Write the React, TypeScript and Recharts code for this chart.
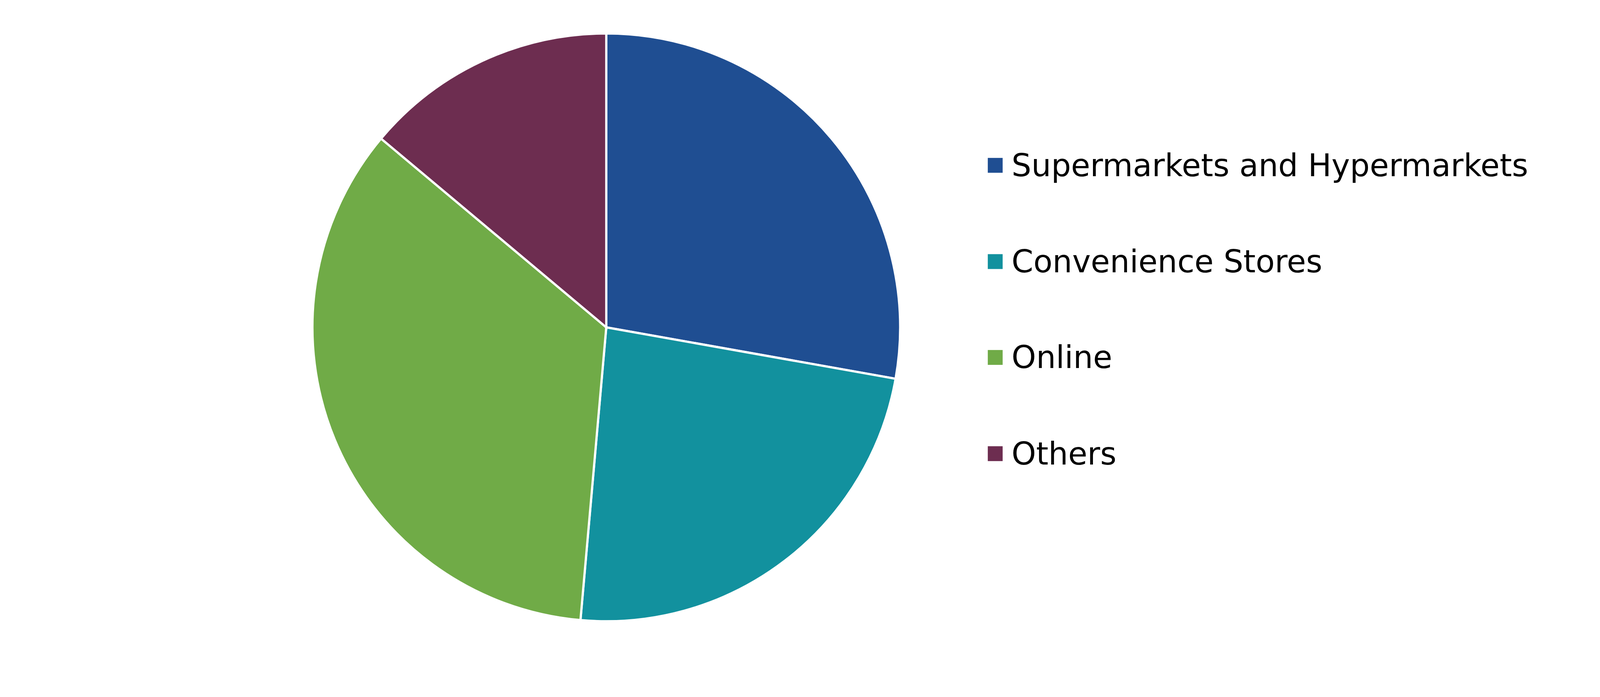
import { PieChart, Pie, Cell, Legend } from 'recharts';

const channels = ['Supermarkets and Hypermarkets', 'Convenience Stores', 'Online', 'Others'];
const shares = [27.8, 23.6, 34.7, 13.9];
const colors = ['#1F4E92', '#12919E', '#70AB47', '#6D2D50'];

const data = channels.map((name, i) => ({ name, value: shares[i] }));

const W = 4307;
const H = 1784;

// keep the legend in data order (recharts sorts by name otherwise)
function LegendList({ payload }: any) {
  const items = [...(payload || [])].sort(
    (a: any, b: any) => channels.indexOf(a.value) - channels.indexOf(b.value)
  );
  return (
    <div>
      {items.map((entry: any) => (
        <div
          key={entry.value}
          style={{ height: 258.5, display: 'flex', alignItems: 'center' }}
        >
          <span
            style={{ width: 40, height: 40, background: entry.color, marginRight: 24, flex: 'none' }}
          />
          <span style={{ fontFamily: 'DejaVu Sans, Verdana, sans-serif', fontSize: 84, color: '#000', whiteSpace: 'nowrap' }}>
            {entry.value}
          </span>
        </div>
      ))}
    </div>
  );
}

export default function App() {
  // fit the 4307x1784 drawing into whatever css viewport the page really has
  const k = Math.min(window.innerWidth / W, window.innerHeight / H, 1);
  return (
    <div
      style={{
        position: 'absolute',
        left: 0,
        top: 0,
        width: W,
        height: H,
        background: '#fff',
        transform: `scale(${k})`,
        transformOrigin: '0 0',
      }}
    >
      <PieChart width={W} height={H} margin={{ top: 0, right: 0, bottom: 0, left: 0 }}>
        <Pie
          data={data}
          dataKey="value"
          nameKey="name"
          cx={1632}
          cy={881}
          outerRadius={791}
          startAngle={90}
          endAngle={-270}
          stroke="#fff"
          strokeWidth={6}
          isAnimationActive={false}
        >
          {data.map((d, i) => (
            <Cell key={d.name} fill={colors[i]} />
          ))}
        </Pie>
        <Legend
          layout="vertical"
          content={<LegendList />}
          wrapperStyle={{ left: 2659, top: 316, width: 1560, bottom: 'auto' }}
        />
      </PieChart>
    </div>
  );
}
